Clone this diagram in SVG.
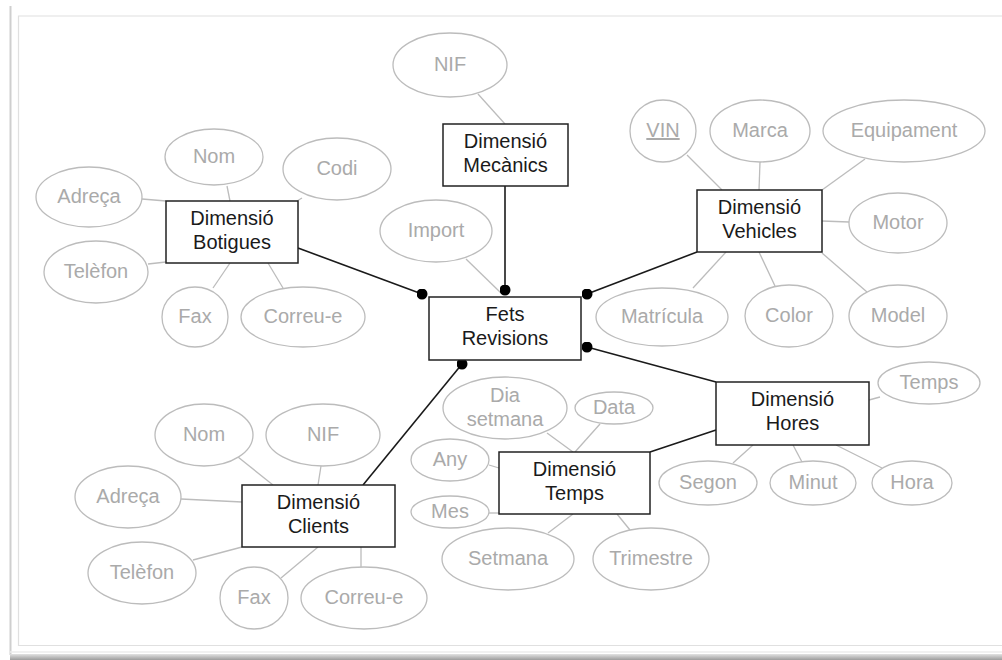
<svg xmlns="http://www.w3.org/2000/svg" width="1002" height="660" viewBox="0 0 1002 660">
  <style>
    .box rect { fill: #ffffff; stroke: #222222; stroke-width: 1.5; }
    .box text { font-family: "Liberation Sans", Arial, sans-serif; font-size: 20px; fill: #1a1a1a; text-anchor: middle; }
    .attr ellipse { fill: #ffffff; stroke: #bcbcbc; stroke-width: 1.3; }
    .attr text { font-family: "Liberation Sans", Arial, sans-serif; font-size: 20px; fill: #aaaaaa; text-anchor: middle; }
    .link { stroke: #bcbcbc; stroke-width: 1.3; fill: none; }
    .rel { stroke: #1a1a1a; stroke-width: 1.6; fill: none; }
    .relDot { stroke: #1a1a1a; stroke-width: 1.6; fill: none; marker-end: url(#dot); }
  </style>
  <defs>
    <marker id="dot" viewBox="0 0 10 10" refX="5" refY="5" markerWidth="11" markerHeight="11" markerUnits="userSpaceOnUse">
      <circle cx="5" cy="5" r="5" fill="#000000"/>
    </marker>
    <linearGradient id="shadow" x1="0" y1="0" x2="0" y2="1">
      <stop offset="0" stop-color="#e2e2e2"/>
      <stop offset="1" stop-color="#9c9c9c"/>
    </linearGradient>
  </defs>

  <rect width="1002" height="660" fill="#ffffff"/>

  <!-- page frame -->
  <g id="frame">
    <line x1="10.5" y1="6" x2="10.5" y2="655" stroke="#cfcfcf" stroke-width="2"/>
    <polyline points="1002,16 18.5,16 18.5,645.5 1002,645.5" fill="none" stroke="#e0e0e0" stroke-width="1.2"/>
    <line x1="10" y1="652" x2="1002" y2="652" stroke="#ececec" stroke-width="1.5"/>
    <rect x="10" y="654" width="992" height="6" fill="url(#shadow)"/>
  </g>

  <!-- connectors -->
  <g id="connectors">
    <!-- attribute links -->
    <line class="link" x1="227" y1="186" x2="230" y2="201"/>
    <line class="link" x1="302" y1="198" x2="297" y2="201"/>
    <line class="link" x1="142" y1="199" x2="166" y2="201"/>
    <line class="link" x1="148" y1="264" x2="166" y2="262"/>
    <line class="link" x1="213" y1="288" x2="230" y2="263"/>
    <line class="link" x1="283" y1="288" x2="268" y2="263"/>

    <line class="link" x1="478" y1="94" x2="505" y2="124"/>
    <line class="link" x1="466" y1="259" x2="502" y2="294"/>

    <line class="link" x1="687" y1="155" x2="722" y2="190"/>
    <line class="link" x1="760" y1="162" x2="759" y2="190"/>
    <line class="link" x1="865" y1="159" x2="822" y2="190"/>
    <line class="link" x1="822" y1="221" x2="849" y2="222"/>
    <line class="link" x1="693" y1="288" x2="726" y2="252"/>
    <line class="link" x1="775" y1="286" x2="759" y2="252"/>
    <line class="link" x1="867" y1="292" x2="822" y2="253"/>

    <line class="link" x1="238" y1="457" x2="273" y2="485"/>
    <line class="link" x1="321" y1="466" x2="318" y2="485"/>
    <line class="link" x1="181" y1="499" x2="242" y2="502"/>
    <line class="link" x1="193" y1="560" x2="242" y2="547"/>
    <line class="link" x1="281" y1="578" x2="318" y2="547"/>
    <line class="link" x1="361" y1="567" x2="361" y2="547"/>

    <line class="link" x1="547" y1="433" x2="573" y2="452"/>
    <line class="link" x1="600" y1="424" x2="575" y2="452"/>
    <line class="link" x1="489" y1="465" x2="499" y2="468"/>
    <line class="link" x1="489" y1="513" x2="499" y2="513"/>
    <line class="link" x1="548" y1="533" x2="573" y2="514"/>
    <line class="link" x1="630" y1="530" x2="617" y2="514"/>

    <line class="link" x1="880" y1="397" x2="869" y2="400"/>
    <line class="link" x1="733" y1="463" x2="753" y2="445"/>
    <line class="link" x1="802" y1="462" x2="793" y2="445"/>
    <line class="link" x1="882" y1="468" x2="836" y2="445"/>

    <!-- dimension links to the fact table -->
    <line class="relDot" x1="298" y1="248" x2="422" y2="294"/>
    <line class="relDot" x1="505" y1="186" x2="505" y2="290"/>
    <line class="relDot" x1="697" y1="252" x2="587" y2="294"/>
    <line class="relDot" x1="716" y1="382" x2="587" y2="347"/>
    <line class="relDot" x1="363" y1="485" x2="462" y2="364"/>
    <line class="rel" x1="650" y1="452" x2="716" y2="430"/>
  </g>

  <!-- Dimensió Botigues -->
  <g id="botigues" class="box">
    <rect x="166" y="201" width="132" height="62"/>
    <text x="232" y="225">Dimensió</text>
    <text x="232" y="249">Botigues</text>
  </g>
  <g id="botigues-attrs" class="attr">
    <ellipse cx="214" cy="157" rx="49" ry="28"/><text x="214" y="163">Nom</text>
    <ellipse cx="337" cy="169" rx="54" ry="31"/><text x="337" y="175">Codi</text>
    <ellipse cx="89" cy="197" rx="53" ry="30"/><text x="89" y="203">Adreça</text>
    <ellipse cx="96" cy="272" rx="52" ry="31"/><text x="96" y="278">Telèfon</text>
    <ellipse cx="195" cy="317" rx="33" ry="30"/><text x="195" y="323">Fax</text>
    <ellipse cx="303" cy="317" rx="62" ry="30"/><text x="303" y="323">Correu-e</text>
  </g>

  <!-- Dimensió Mecànics -->
  <g id="mecanics" class="box">
    <rect x="443" y="124" width="125" height="62"/>
    <text x="505.5" y="148">Dimensió</text>
    <text x="505.5" y="172">Mecànics</text>
  </g>
  <g id="mecanics-attrs" class="attr">
    <ellipse cx="450" cy="65" rx="57" ry="32"/><text x="450" y="71">NIF</text>
  </g>

  <!-- Fets Revisions -->
  <g id="fets" class="box">
    <rect x="429" y="297" width="152" height="63"/>
    <text x="505" y="321">Fets</text>
    <text x="505" y="345">Revisions</text>
  </g>
  <g id="fets-attrs" class="attr">
    <ellipse cx="436" cy="231" rx="56" ry="31"/><text x="436" y="237">Import</text>
  </g>

  <!-- Dimensió Vehicles -->
  <g id="vehicles" class="box">
    <rect x="697" y="190" width="125" height="62"/>
    <text x="759.5" y="214">Dimensió</text>
    <text x="759.5" y="238">Vehicles</text>
  </g>
  <g id="vehicles-attrs" class="attr">
    <ellipse cx="663" cy="131" rx="33" ry="31"/><text x="663" y="137" text-decoration="underline">VIN</text>
    <ellipse cx="760" cy="131" rx="50" ry="31"/><text x="760" y="137">Marca</text>
    <ellipse cx="904" cy="131" rx="81" ry="31"/><text x="904" y="137">Equipament</text>
    <ellipse cx="898" cy="223" rx="49" ry="30"/><text x="898" y="229">Motor</text>
    <ellipse cx="662" cy="317" rx="66" ry="29"/><text x="662" y="323">Matrícula</text>
    <ellipse cx="789" cy="316" rx="44" ry="31"/><text x="789" y="322">Color</text>
    <ellipse cx="898" cy="316" rx="49" ry="31"/><text x="898" y="322">Model</text>
  </g>

  <!-- Dimensió Clients -->
  <g id="clients" class="box">
    <rect x="242" y="485" width="153" height="62"/>
    <text x="318.5" y="509">Dimensió</text>
    <text x="318.5" y="533">Clients</text>
  </g>
  <g id="clients-attrs" class="attr">
    <ellipse cx="204" cy="435" rx="49" ry="31"/><text x="204" y="441">Nom</text>
    <ellipse cx="323" cy="435" rx="57" ry="31"/><text x="323" y="441">NIF</text>
    <ellipse cx="128" cy="497" rx="53" ry="31"/><text x="128" y="503">Adreça</text>
    <ellipse cx="142" cy="573" rx="54" ry="31"/><text x="142" y="579">Telèfon</text>
    <ellipse cx="254" cy="598" rx="34" ry="31"/><text x="254" y="604">Fax</text>
    <ellipse cx="364" cy="598" rx="63" ry="31"/><text x="364" y="604">Correu-e</text>
  </g>

  <!-- Dimensió Temps -->
  <g id="temps" class="box">
    <rect x="499" y="452" width="151" height="62"/>
    <text x="574.5" y="476">Dimensió</text>
    <text x="574.5" y="500">Temps</text>
  </g>
  <g id="temps-attrs" class="attr">
    <ellipse cx="505" cy="408" rx="62" ry="31"/>
    <text x="505" y="402">Dia</text>
    <text x="505" y="426">setmana</text>
    <ellipse cx="614" cy="408" rx="39" ry="16"/><text x="614" y="414">Data</text>
    <ellipse cx="450" cy="460" rx="39" ry="21"/><text x="450" y="466">Any</text>
    <ellipse cx="450" cy="512" rx="39" ry="16"/><text x="450" y="518">Mes</text>
    <ellipse cx="508" cy="559" rx="66" ry="31"/><text x="508" y="565">Setmana</text>
    <ellipse cx="651" cy="559" rx="58" ry="31"/><text x="651" y="565">Trimestre</text>
  </g>

  <!-- Dimensió Hores -->
  <g id="hores" class="box">
    <rect x="716" y="382" width="153" height="63"/>
    <text x="792.5" y="406">Dimensió</text>
    <text x="792.5" y="430">Hores</text>
  </g>
  <g id="hores-attrs" class="attr">
    <ellipse cx="929" cy="383" rx="51" ry="21"/><text x="929" y="389">Temps</text>
    <ellipse cx="708" cy="483" rx="49" ry="22"/><text x="708" y="489">Segon</text>
    <ellipse cx="813" cy="483" rx="43" ry="22"/><text x="813" y="489">Minut</text>
    <ellipse cx="912" cy="483" rx="40" ry="22"/><text x="912" y="489">Hora</text>
  </g>
</svg>
